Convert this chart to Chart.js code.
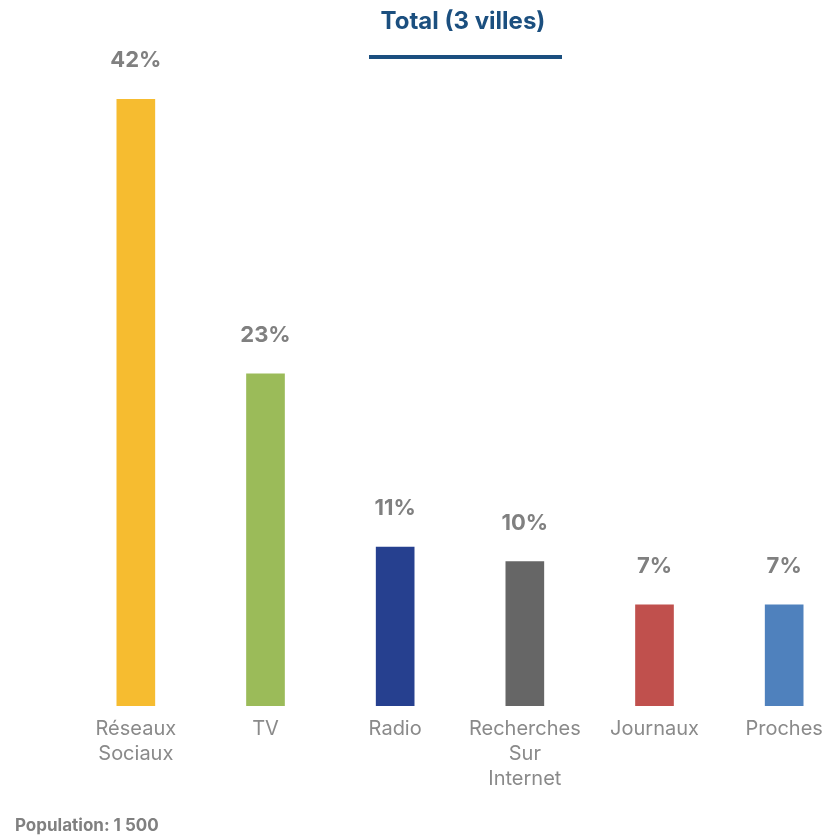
<!DOCTYPE html>
<html>
<head>
<meta charset="utf-8">
<script src="https://cdn.jsdelivr.net/npm/chart.js@4/dist/chart.umd.min.js"></script>
<style>
  html, body { margin: 0; padding: 0; background: #ffffff; overflow: hidden; }
  #wrap { position: relative; width: 849px; height: 836px; }
</style>
</head>
<body>
<div id="wrap"><canvas id="chart"></canvas></div>
<script>
  var CATEGORIES = [
    ['Réseaux', 'Sociaux'],
    'TV',
    'Radio',
    ['Recherches', 'Sur', 'Internet'],
    'Journaux',
    'Proches'
  ];
  var SHARES = [42, 23, 11, 10, 7, 7];
  var BAR_COLORS = ['#F6BC30', '#9BBB59', '#26408F', '#666666', '#C0504D', '#4F81BD'];
  var TITLE = 'Total (3 villes)';
  var FOOTNOTE = 'Population: 1 500';

  var FONT = 'Inter, "Open Sans", sans-serif';
  var LABEL_GRAY = '#808080';
  var TICK_GRAY = '#8a8a8a';
  var NAVY = '#1B4F7F';

  // title with its underline, footnote, and percentages above bars
  var decorPlugin = {
    id: 'decor',
    afterDatasetsDraw: function (chart) {
      var c = chart.ctx;
      c.save();
      c.fillStyle = NAVY;
      c.font = 'bold 24px ' + FONT;
      c.textAlign = 'center';
      c.textBaseline = 'alphabetic';
      c.fillText(TITLE, 463, 29);
      c.fillRect(369, 55, 193, 4);

      c.fillStyle = LABEL_GRAY;
      c.font = 'bold 17px ' + FONT;
      c.textAlign = 'left';
      c.fillText(FOOTNOTE, 15, 831);

      c.font = 'bold 22px ' + FONT;
      c.textAlign = 'center';
      var meta = chart.getDatasetMeta(0);
      meta.data.forEach(function (bar, i) {
        c.fillText(SHARES[i] + '%', bar.x, bar.y - 32);
      });
      c.restore();
    }
  };

  new Chart(document.getElementById('chart'), {
    type: 'bar',
    data: {
      labels: CATEGORIES,
      datasets: [{
        data: SHARES,
        backgroundColor: BAR_COLORS,
        borderWidth: 0,
        barThickness: 38
      }]
    },
    options: {
      responsive: true,
      maintainAspectRatio: false,
      animation: false,
      layout: { padding: { left: 71, right: 0, top: 56, bottom: 35 } },
      plugins: {
        legend: { display: false },
        tooltip: { enabled: false }
      },
      scales: {
        x: {
          grid: { display: false, drawTicks: false },
          border: { display: false },
          ticks: {
            color: TICK_GRAY,
            padding: 10,
            maxRotation: 0,
            autoSkip: false,
            font: { family: FONT, size: 20, lineHeight: 1.25 }
          }
        },
        y: {
          display: false,
          min: 0,
          max: 45
        }
      }
    },
    plugins: [decorPlugin]
  });
</script>
</body>
</html>
